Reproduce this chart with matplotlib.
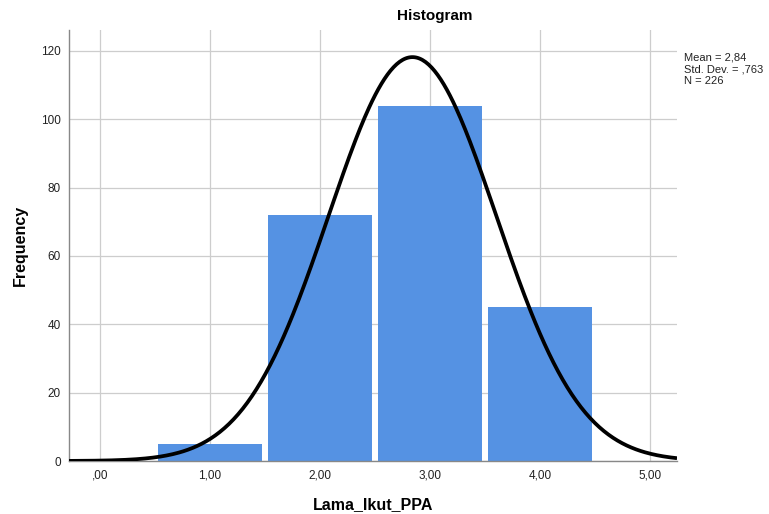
import numpy as np
import matplotlib
matplotlib.use("Agg")
import matplotlib.pyplot as plt

plt.rcParams["font.family"] = ["Liberation Sans", "DejaVu Sans"]

# Data
bin_centers = [1.0, 2.0, 3.0, 4.0]
frequencies = [5, 72, 104, 45]
mean_val = 2.84
std_val = 0.763
n_val = 226
x_ticks = [0, 1, 2, 3, 4, 5]
x_tick_labels = [",00", "1,00", "2,00", "3,00", "4,00", "5,00"]
y_ticks = [0, 20, 40, 60, 80, 100, 120]

W, H = 769, 514
fig = plt.figure(figsize=(W / 100, H / 100), dpi=100)
ax = fig.add_axes([69 / W, (H - 461) / H, (677 - 69) / W, (461 - 30) / H])

ax.set_xlim(-0.282, 5.245)
ax.set_ylim(0, 126.1)

ax.grid(True, color="#cdcdcd", linewidth=0.9)
ax.set_axisbelow(True)

ax.bar(bin_centers, frequencies, width=0.94, color="#5592e3", edgecolor="none", zorder=2)

xs = np.linspace(-0.282, 5.245, 400)
pdf = n_val * 1.0 / (std_val * np.sqrt(2 * np.pi)) * np.exp(-0.5 * ((xs - mean_val) / std_val) ** 2)
ax.plot(xs, pdf, color="black", linewidth=2.7, zorder=3, solid_capstyle="butt")

ax.set_xticks(x_ticks)
ax.set_xticklabels(x_tick_labels)
ax.set_yticks(y_ticks)
ax.tick_params(axis="both", length=0, labelsize=8.5, colors="#222222", pad=6)

for s in ["top", "right"]:
    ax.spines[s].set_visible(False)
ax.spines["left"].set_color("#888888")
ax.spines["bottom"].set_color("#888888")
ax.spines["left"].set_linewidth(1.0)
ax.spines["bottom"].set_linewidth(1.0)

fig.text(435 / W, 1 - 16 / H, "Histogram", ha="center", va="center", fontsize=11, fontweight="bold")
fig.text(20 / W, 1 - 245 / H, "Frequency", ha="center", va="center", rotation=90, fontsize=11.5, fontweight="bold")
fig.text(373 / W, 1 - 505 / H, "Lama_Ikut_PPA", ha="center", va="center", fontsize=11.5, fontweight="bold")
fig.text(684 / W, 1 - 53 / H,
         "Mean = 2,84\nStd. Dev. = ,763\nN = 226",
         ha="left", va="top", fontsize=8, linespacing=1.2, color="#222222")

fig.savefig("out.png", dpi=100)
